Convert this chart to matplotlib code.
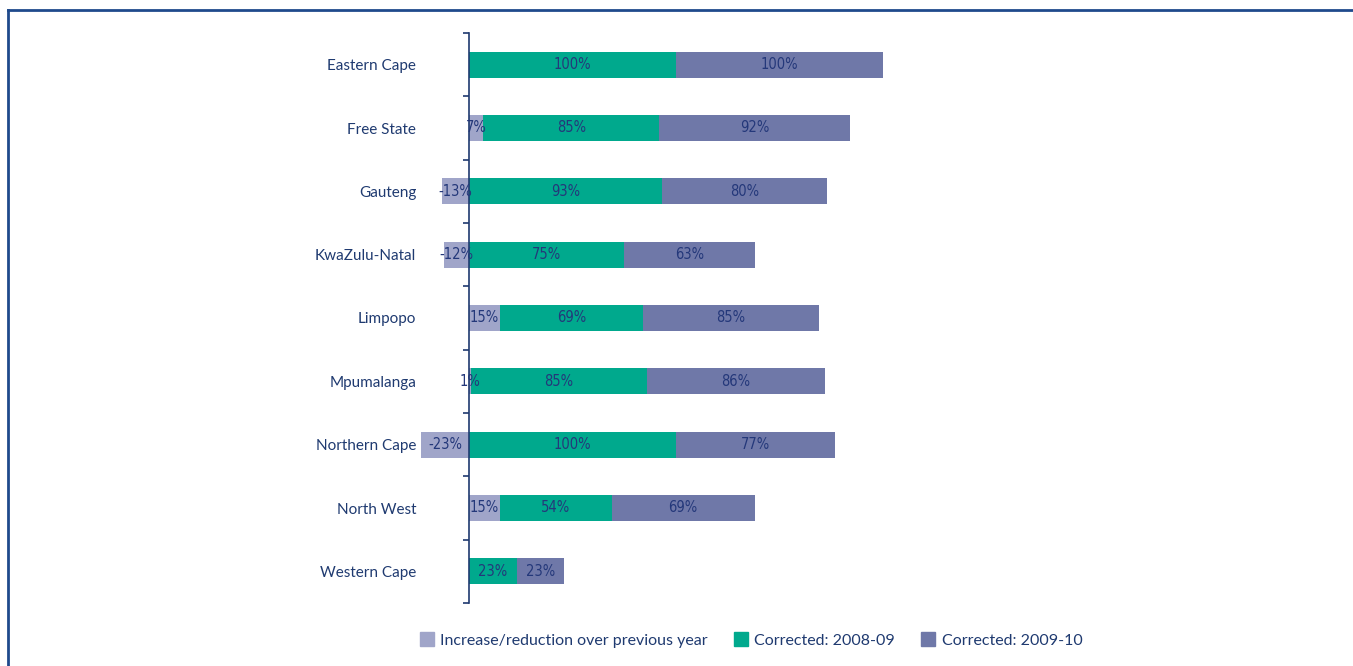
import numpy as np
import matplotlib.pyplot as plt
from matplotlib.lines import Line2D
from matplotlib.patches import Patch

# provinces, top to bottom
provinces = ["Eastern Cape", "Free State", "Gauteng", "KwaZulu-Natal", "Limpopo",
             "Mpumalanga", "Northern Cape", "North West", "Western Cape"]
change = [np.nan, 7, -13, -12, 15, 1, -23, 15, np.nan]
corr_0809 = [100, 85, 93, 75, 69, 85, 100, 54, 23]
corr_0910 = [100, 92, 80, 63, 85, 86, 77, 69, 23]

c_change = "#a0a5c9"
c_0809 = "#00a98d"
c_0910 = "#6f78a8"
navy = "#1f3a70"
label_col = "#24387a"

W, H = 1353, 666
fig = plt.figure(figsize=(W / 100, H / 100), dpi=100)

# axes placed in pixels: x=0 at 469px, 2.07px per percent
x0, scale = 469, 2.07
xmin, xmax = -35, 420
left = x0 + xmin * scale
right = x0 + xmax * scale
top, bottom = 33, 603
ax = fig.add_axes([left / W, 1 - bottom / H, (right - left) / W, (bottom - top) / H])

n = len(provinces)
y = np.arange(n)
chg = np.array(change, dtype=float)
g = np.array(corr_0809, dtype=float)
p = np.array(corr_0910, dtype=float)
h = 0.41

chg0 = np.nan_to_num(chg)
g_left = np.clip(chg0, 0, None)
p_left = g_left + g

ax.barh(y, chg0, height=h, color=c_change)
ax.barh(y, g, left=g_left, height=h, color=c_0809)
ax.barh(y, p, left=p_left, height=h, color=c_0910)

lab_font = dict(family="DejaVu Sans", stretch="condensed", fontsize=10.5,
                color=label_col, ha="center", va="center")
for i in range(n):
    if not np.isnan(chg[i]):
        ax.text(chg[i] / 2, i, f"{chg[i]:.0f}%", **lab_font)
    ax.text(g_left[i] + g[i] / 2, i, f"{g[i]:.0f}%", **lab_font)
    ax.text(p_left[i] + p[i] / 2, i, f"{p[i]:.0f}%", **lab_font)

ax.set_xlim(xmin, xmax)
ax.set_ylim(n - 0.5, -0.5)
for s in ["top", "right", "bottom"]:
    ax.spines[s].set_visible(False)
ax.spines["left"].set_position(("data", 0))
ax.spines["left"].set_color(navy)
ax.spines["left"].set_linewidth(1.2)
ax.set_xticks([])
ax.set_yticks(np.arange(n + 1) - 0.5)
ax.set_yticklabels([])
ax.tick_params(axis="y", which="major", length=4.5, width=1.2, color=navy)
ax.set_yticks(y, minor=True)
ax.set_yticklabels(provinces, minor=True)
ax.tick_params(axis="y", which="minor", length=0, pad=38, labelsize=11, labelcolor=navy)
for t in ax.get_yticklabels(minor=True):
    t.set_family(["Lato", "DejaVu Sans"])

handles = [Patch(color=c_change, label="Increase/reduction over previous year"),
           Patch(color=c_0809, label="Corrected: 2008-09"),
           Patch(color=c_0910, label="Corrected: 2009-10")]
leg = fig.legend(handles=handles, loc="center", bbox_to_anchor=(751 / W, 1 - 640 / H),
                 ncol=3, frameon=False, handlelength=0.9, handleheight=0.9,
                 handletextpad=0.4, columnspacing=1.6,
                 prop=dict(family=["Lato", "DejaVu Sans"], size=11.5))
for t in leg.get_texts():
    t.set_color(navy)

# page frame
fcol = "#1f4a8c"
fig.add_artist(Line2D([8 / W, 8 / W], [0, 1 - 10 / H], color=fcol, lw=2))
fig.add_artist(Line2D([8 / W, 1], [1 - 10 / H, 1 - 10 / H], color=fcol, lw=2))

fig.savefig("out.png", dpi=100)
